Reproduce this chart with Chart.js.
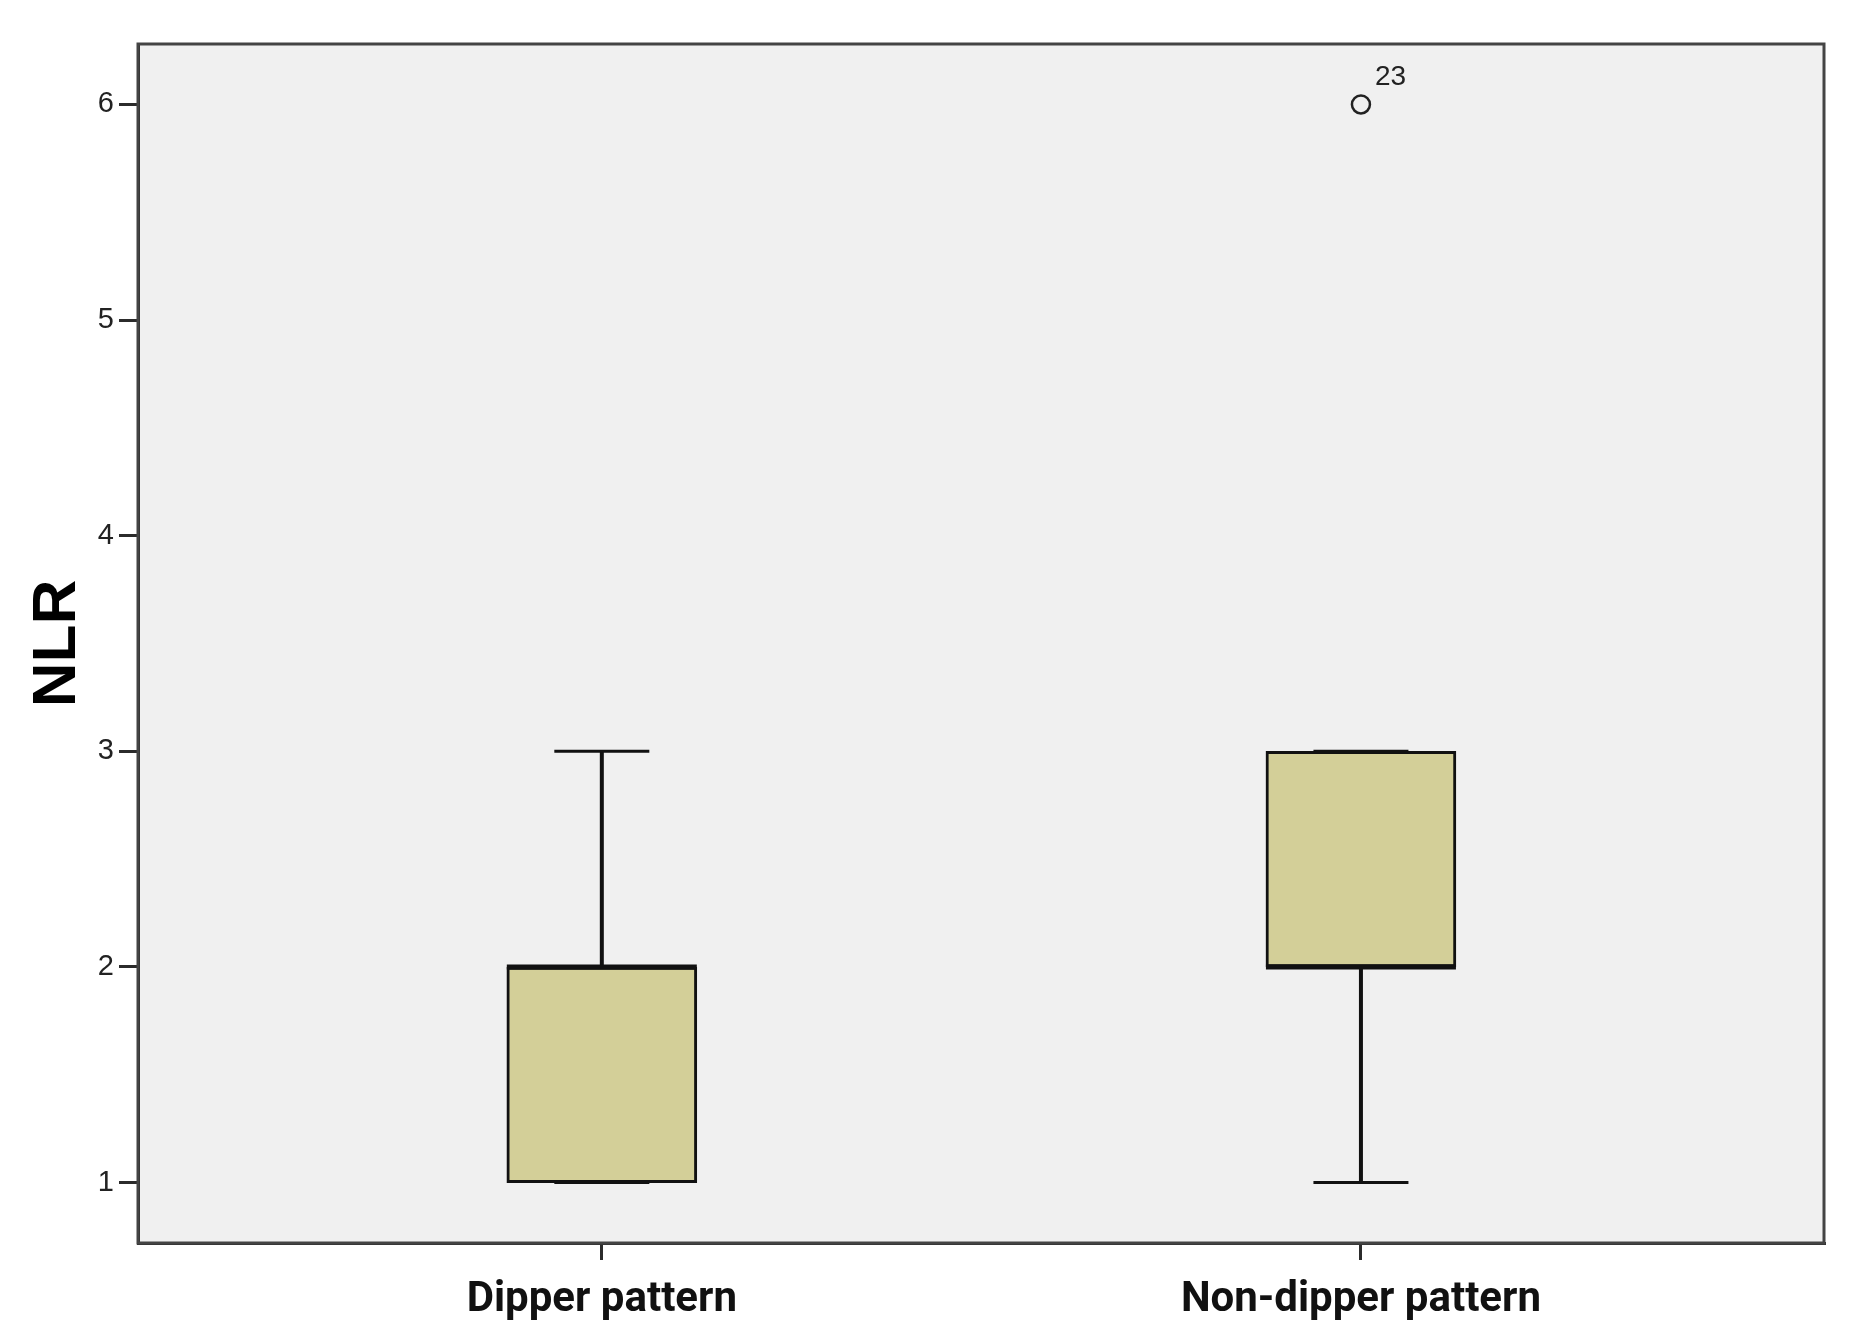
<!DOCTYPE html>
<html>
<head>
<meta charset="utf-8">
<title>NLR boxplot</title>
<script src="https://cdn.jsdelivr.net/npm/chart.js@4.4.1/dist/chart.umd.min.js"></script>
<style>
  html, body { margin: 0; padding: 0; background: #ffffff; }
  #wrap { width: 1857px; height: 1338px; position: relative; }
</style>
</head>
<body>
<div id="wrap"><canvas id="nlrBox"></canvas></div>
<script>
// datos
const categories = ['Dipper pattern', 'Non-dipper pattern'];
const whiskerLow = [1, 1];
const q1 = [1, 2];
const median = [2, 2];
const q3 = [2, 3];
const whiskerHigh = [3, 3];
const outlierValues = [[], [6]];
const outlierLabels = [[], ['23']];
const yTicks = [1, 2, 3, 4, 5, 6];

const boxData = categories.map((c, i) => ({ x: i, y: [q1[i], q3[i]] }));
const outlierData = [];
const outlierText = [];
outlierValues.forEach((vals, i) => {
  vals.forEach((v, k) => {
    outlierData.push({ x: i, y: v });
    outlierText.push(outlierLabels[i][k]);
  });
});

const axisColor = '#2b2b2b';

// fondo del area y bigotes / medianas
const boxplotPlugin = {
  id: 'boxplotExtras',
  beforeDraw(chart) {
    const a = chart.chartArea;
    const ctx = chart.ctx;
    ctx.save();
    ctx.fillStyle = '#f0f0f0';
    ctx.fillRect(a.left, a.top, a.right - a.left, a.bottom - a.top);
    ctx.restore();
  },
  beforeDatasetsDraw(chart) {
    const ctx = chart.ctx;
    const xs = chart.scales.x, ys = chart.scales.y;
    const bars = chart.getDatasetMeta(0).data;
    ctx.save();
    ctx.strokeStyle = '#111';
    categories.forEach((c, i) => {
      const x = xs.getPixelForValue(i);
      const capHalf = bars[i].width / 4;
      ctx.lineWidth = 4;
      ctx.beginPath();
      ctx.moveTo(x, ys.getPixelForValue(q3[i]));
      ctx.lineTo(x, ys.getPixelForValue(whiskerHigh[i]));
      ctx.moveTo(x, ys.getPixelForValue(q1[i]));
      ctx.lineTo(x, ys.getPixelForValue(whiskerLow[i]));
      ctx.stroke();
      ctx.lineWidth = 3;
      ctx.beginPath();
      [whiskerHigh[i], whiskerLow[i]].forEach(v => {
        const y = ys.getPixelForValue(v);
        ctx.moveTo(x - capHalf, y);
        ctx.lineTo(x + capHalf, y);
      });
      ctx.stroke();
    });
    ctx.restore();
  },
  afterDatasetsDraw(chart) {
    const ctx = chart.ctx;
    const a = chart.chartArea;
    const ys = chart.scales.y;
    const bars = chart.getDatasetMeta(0).data;
    ctx.save();
    ctx.strokeStyle = '#111';
    ctx.lineWidth = 5;
    categories.forEach((c, i) => {
      const b = bars[i];
      const y = ys.getPixelForValue(median[i]);
      ctx.beginPath();
      ctx.moveTo(b.x - b.width / 2, y);
      ctx.lineTo(b.x + b.width / 2, y);
      ctx.stroke();
    });
    // etiquetas de atipicos
    const pts = chart.getDatasetMeta(1).data;
    ctx.fillStyle = '#222';
    ctx.font = '28px "Liberation Sans", Arial, sans-serif';
    ctx.textAlign = 'left';
    ctx.textBaseline = 'alphabetic';
    pts.forEach((p, k) => {
      ctx.fillText(outlierText[k], p.x + 14, p.y - 19);
    });
    // marco
    ctx.strokeStyle = '#444';
    ctx.lineWidth = 3;
    ctx.strokeRect(a.left, a.top, a.right - a.left, a.bottom - a.top);
    ctx.restore();
  }
};

const ctx1 = document.getElementById('nlrBox').getContext('2d');
const nlrChart = new Chart(ctx1, {
  type: 'bar',
  data: {
    datasets: [
      {
        type: 'bar',
        label: 'NLR',
        data: boxData,
        backgroundColor: '#d3cf98',
        borderColor: '#111',
        borderWidth: 3,
        borderSkipped: false,
        barThickness: 190,
      },
      {
        type: 'scatter',
        label: 'Outliers',
        data: outlierData,
        pointRadius: 9,
        pointBorderWidth: 2.5,
        pointBorderColor: '#222',
        pointBackgroundColor: 'rgba(0,0,0,0)',
      },
    ],
  },
  options: {
    responsive: true,
    maintainAspectRatio: false,
    animation: false,
    layout: { padding: { top: 44, right: 33, left: 0, bottom: 0 } },
    plugins: {
      legend: { display: false },
      tooltip: { enabled: false },
    },
    scales: {
      x: {
        type: 'linear',
        min: -0.611,
        max: 1.61,
        offset: false,
        afterBuildTicks: (scale) => { scale.ticks = categories.map((c, i) => ({ value: i })); },
        afterFit: (scale) => { scale.height = 95; },
        ticks: {
          callback: (v) => categories[v],
          color: '#111',
          padding: 15,
          maxRotation: 0,
          autoSkip: false,
          font: { family: 'Roboto', weight: 'bold', size: 42 },
        },
        grid: { offset: false, drawOnChartArea: false, tickLength: 17, color: axisColor, lineWidth: 3 },
        border: { display: true, color: axisColor, width: 3 },
      },
      y: {
        min: 0.72,
        max: 6.28,
        afterBuildTicks: (scale) => { scale.ticks = yTicks.map(v => ({ value: v })); },
        afterFit: (scale) => { scale.width = 138; },
        ticks: {
          color: '#222',
          padding: 5,
          font: { family: '"Liberation Sans", Arial, sans-serif', size: 29 },
        },
        grid: { drawOnChartArea: false, tickLength: 19, color: axisColor, lineWidth: 3 },
        border: { display: true, color: axisColor, width: 3 },
        title: {
          display: true,
          text: 'NLR',
          color: '#000',
          padding: { top: 21, bottom: 0 },
          font: { family: '"Liberation Sans", Arial, sans-serif', weight: 'bold', size: 62 },
        },
      },
    },
  },
  plugins: [boxplotPlugin],
});
</script>
</body>
</html>
